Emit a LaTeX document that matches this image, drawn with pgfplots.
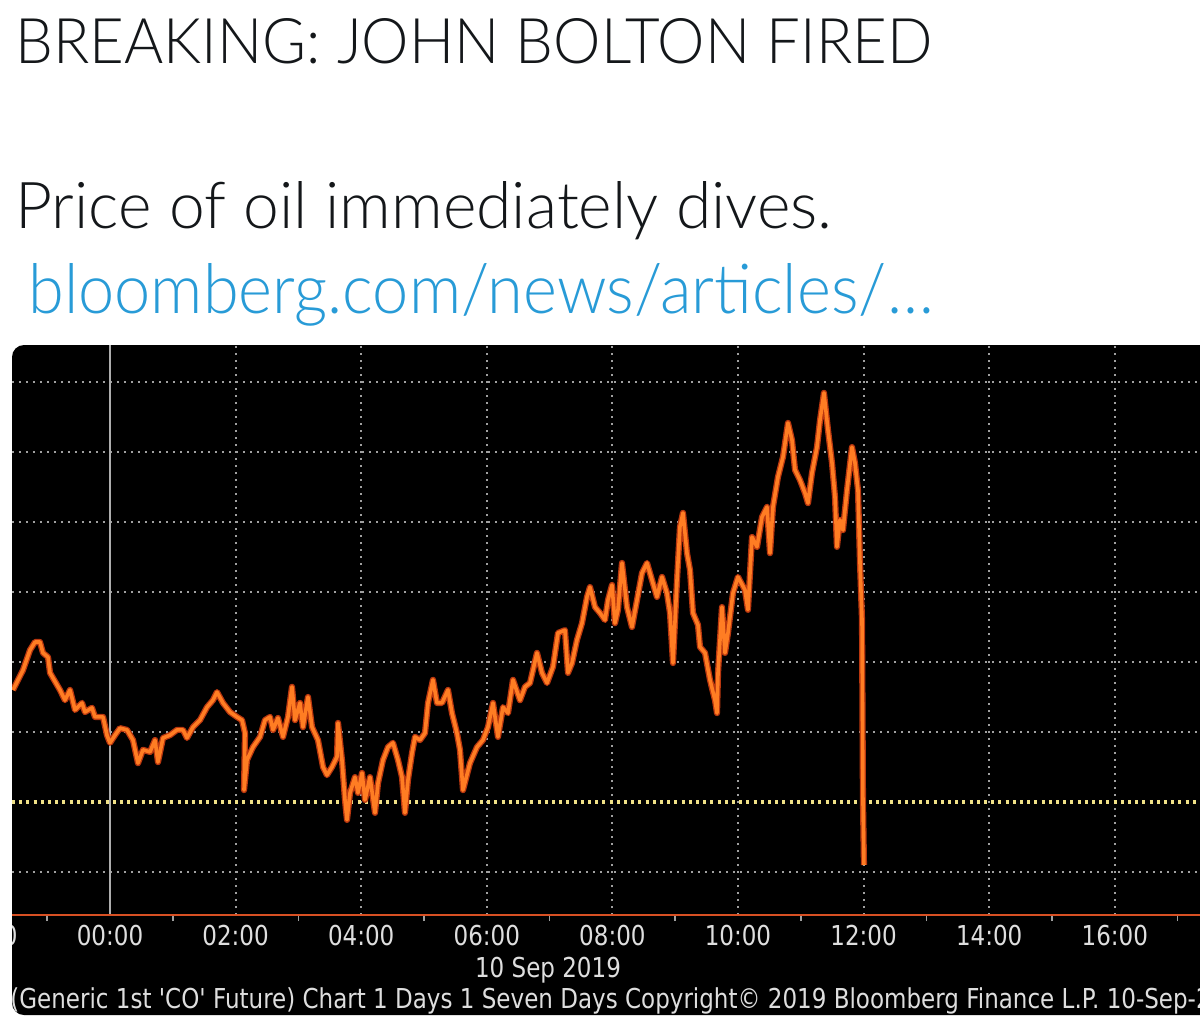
\documentclass[border=0pt]{standalone}
\usepackage{fontspec}
\usepackage{pgfplots}
\pgfplotsset{compat=1.18}
\usepackage{pgfplotstable}
\usepackage{graphicx}
\newfontfamily\tw{Lato Light}
\newfontfamily\bbg{DejaVu Sans}[FakeStretch=0.84,Ligatures=TeXOff]
\definecolor{tweetblack}{RGB}{20,23,26}
\definecolor{linkblue}{RGB}{40,155,215}
\definecolor{oilorange}{RGB}{255,125,35}
\definecolor{oildark}{RGB}{185,55,15}
\definecolor{gridgray}{RGB}{160,160,160}
\definecolor{ticklab}{RGB}{222,222,222}
\definecolor{axisorange}{RGB}{215,80,35}
\definecolor{prevclose}{RGB}{240,225,135}

\pgfplotstableread{
h p
-1.545 62.520
-1.385 62.577
-1.274 62.634
-1.194 62.657
-1.115 62.657
-1.067 62.626
-0.987 62.614
-0.955 62.569
-0.796 62.520
-0.717 62.491
-0.637 62.520
-0.557 62.463
-0.446 62.483
-0.398 62.457
-0.287 62.469
-0.239 62.443
-0.111 62.443
-0.048 62.391
0.000 62.369
0.080 62.391
0.159 62.411
0.271 62.406
0.366 62.377
0.446 62.311
0.525 62.349
0.637 62.343
0.717 62.377
0.764 62.314
0.844 62.383
0.955 62.391
1.067 62.406
1.162 62.406
1.226 62.383
1.322 62.414
1.433 62.434
1.545 62.471
1.640 62.491
1.704 62.514
1.799 62.483
1.911 62.457
2.022 62.443
2.102 62.434
2.150 62.397
2.134 62.234
2.182 62.320
2.277 62.357
2.389 62.386
2.468 62.434
2.548 62.443
2.596 62.406
2.675 62.440
2.755 62.386
2.834 62.443
2.898 62.529
2.946 62.434
3.025 62.483
3.073 62.414
3.153 62.500
3.217 62.414
3.312 62.377
3.392 62.300
3.455 62.277
3.535 62.300
3.615 62.329
3.631 62.426
3.694 62.320
3.742 62.206
3.774 62.149
3.822 62.226
3.901 62.271
3.949 62.226
4.013 62.283
4.061 62.206
4.140 62.271
4.220 62.169
4.268 62.254
4.347 62.320
4.427 62.357
4.506 62.369
4.586 62.320
4.650 62.271
4.697 62.169
4.745 62.263
4.809 62.340
4.857 62.386
4.936 62.377
5.016 62.397
5.064 62.483
5.143 62.549
5.207 62.483
5.287 62.483
5.382 62.520
5.446 62.454
5.525 62.397
5.573 62.349
5.621 62.234
5.732 62.311
5.844 62.357
5.939 62.377
6.019 62.414
6.099 62.483
6.178 62.386
6.258 62.471
6.338 62.454
6.417 62.549
6.529 62.491
6.608 62.529
6.688 62.540
6.799 62.626
6.879 62.569
6.959 62.540
7.054 62.586
7.134 62.683
7.245 62.691
7.293 62.569
7.357 62.597
7.436 62.663
7.516 62.711
7.596 62.786
7.643 62.814
7.723 62.757
7.803 62.740
7.882 62.720
7.930 62.777
7.994 62.820
8.041 62.711
8.089 62.749
8.153 62.883
8.232 62.757
8.312 62.700
8.392 62.777
8.471 62.854
8.551 62.883
8.631 62.834
8.710 62.786
8.790 62.843
8.869 62.797
8.917 62.740
8.965 62.597
9.029 62.834
9.076 62.986
9.124 63.026
9.188 62.911
9.236 62.863
9.283 62.740
9.363 62.706
9.395 62.643
9.475 62.626
9.554 62.549
9.634 62.491
9.666 62.454
9.682 62.569
9.745 62.757
9.793 62.626
9.841 62.683
9.920 62.797
10.000 62.843
10.111 62.806
10.159 62.749
10.223 62.957
10.303 62.929
10.382 63.014
10.462 63.043
10.510 62.911
10.557 63.043
10.637 63.129
10.717 63.186
10.796 63.283
10.860 63.234
10.908 63.149
10.987 63.120
11.067 63.083
11.115 63.054
11.178 63.140
11.258 63.214
11.306 63.291
11.369 63.369
11.433 63.263
11.497 63.169
11.545 63.071
11.576 62.929
11.624 63.006
11.672 62.977
11.736 63.091
11.815 63.214
11.863 63.169
11.911 63.091
11.943 62.883
11.975 62.720
11.990 62.206
12.006 62.020
}\oil

\begin{document}
\begin{tikzpicture}
\useasboundingbox (0,0) rectangle (600pt,-516.5pt);
\fill[white] (0,0) rectangle (600pt,-516.5pt);
\clip (0,0) rectangle (600pt,-516.5pt);

% tweet text
\node[anchor=base west, inner sep=0, text=tweetblack] at (7.5pt,-31.5pt)
  {\resizebox{458.5pt}{22.5pt}{\tw BREAKING: JOHN BOLTON FIRED}};
\node[anchor=base west, inner sep=0, text=tweetblack] at (7.5pt,-114pt)
  {\resizebox{408.5pt}{23.5pt}{\tw Price of oil immediately dives.}};
\node[anchor=base west, inner sep=0, text=linkblue] at (14pt,-156.5pt)
  {\resizebox{452.5pt}{25pt}{\tw bloomberg.com/news/articles/…}};

% chart panel
\fill[black, rounded corners=6pt] (6pt,-172.5pt) rectangle (615pt,-507.5pt);
\begin{scope}
\clip[rounded corners=6pt] (6pt,-172.5pt) rectangle (615pt,-507.5pt);
\begin{axis}[
  at={(6pt,-457.5pt)}, anchor=south west,
  width=594pt, height=285pt, scale only axis,
  xmin=-1.5605, xmax=17.357, ymin=61.8771, ymax=63.5057,
  enlargelimits=false,
  axis line style={draw=none},
  xtick={2,4,6,8,10,12,14,16},
  xticklabels={02:00,04:00,06:00,08:00,10:00,12:00,14:00,16:00},
  extra x ticks={0}, extra x tick labels={00:00},
  extra x tick style={grid style={solid, color=gridgray!85, line width=1.1pt}},
  minor xtick={-1,1,3,5,7,9,11,13,15,17},
  xtick pos=bottom, tick align=outside,
  major tick length=0pt, minor tick length=3pt,
  every minor tick/.append style={gridgray, line width=0.8pt},
  ytick={62.0,62.4,62.6,62.8,63.0,63.2,63.4},
  yticklabels={},
  extra y ticks={62.2}, extra y tick labels={},
  extra y tick style={grid style={prevclose, line width=1.7pt, dash pattern=on 1.5pt off 2.1pt}},
  ytick style={draw=none},
  xmajorgrids, ymajorgrids,
  grid style={gridgray, line width=1.05pt, dash pattern=on 1pt off 2.5pt},
  xticklabel style={font=\bbg\fontsize{13.7}{14}\selectfont, text=ticklab, inner sep=0pt, anchor=north, yshift=-5pt},
]
\addplot[oildark, line width=3.1pt, line join=round, no markers] table[x=h,y=p]{\oil};
\addplot[oilorange, line width=1.8pt, line join=round, no markers] table[x=h,y=p]{\oil};
\end{axis}
\draw[axisorange, line width=1.2pt] (6pt,-457.5pt) -- (615pt,-457.5pt);
\node[anchor=north, inner sep=0, text=ticklab, font=\bbg\fontsize{13.7}{14}\selectfont] at (-7.8pt,-462.5pt) {22:00};
\node[anchor=base, inner sep=0, text=ticklab, font=\bbg\fontsize{13.7}{14}\selectfont] at (274pt,-488.5pt) {10 Sep 2019};
\node[anchor=base west, inner sep=0, text=ticklab, font=\bbg\fontsize{13.7}{14}\selectfont] at (5pt,-504pt)
  {(Generic 1st 'CO' Future) Chart 1 Days 1 Seven Days Copyright© 2019 Bloomberg Finance L.P. 10-Sep-2019};
\end{scope}
\end{tikzpicture}
\end{document}
